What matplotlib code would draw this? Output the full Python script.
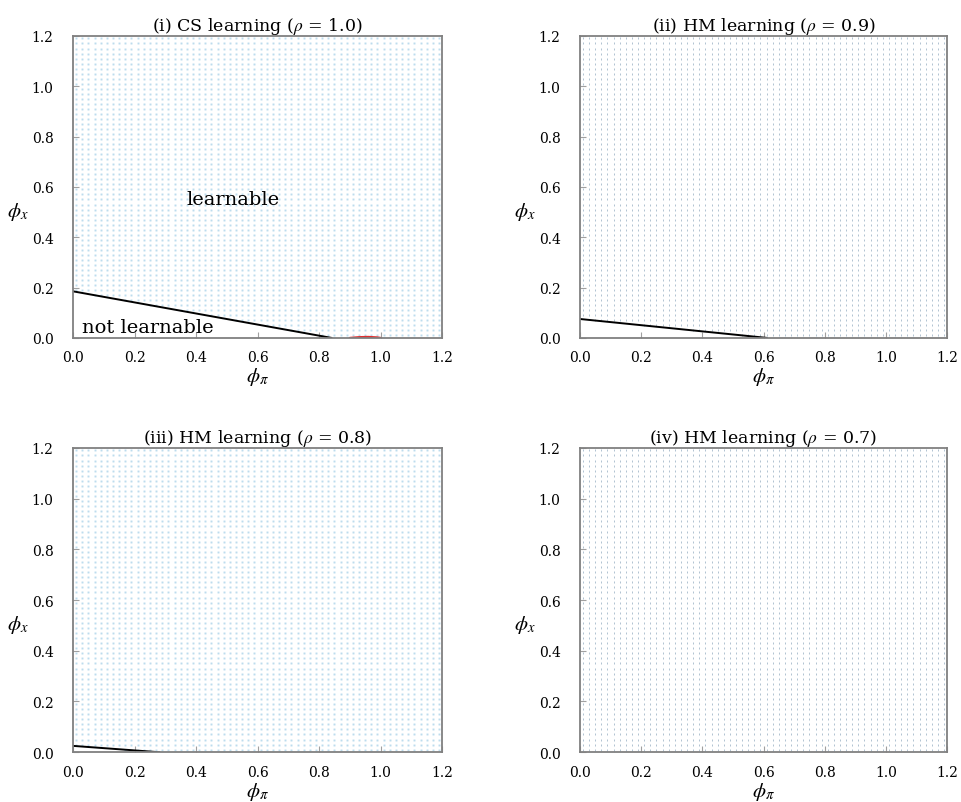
import numpy as np
import matplotlib.pyplot as plt

plt.rcParams['font.family'] = ['DejaVu Serif']
plt.rcParams['mathtext.fontset'] = 'stix'

# panel titles
titles = ["(i) CS learning ($\\rho$ = 1.0)",
          "(ii) HM learning ($\\rho$ = 0.9)",
          "(iii) HM learning ($\\rho$ = 0.8)",
          "(iv) HM learning ($\\rho$ = 0.7)"]

# boundary lines: phi_x intercept and phi_pi intercept
line_x0 = [0.185, 0.075, 0.025, None]
line_p0 = [0.84, 0.61, 0.28, None]

# small red arc in panel (i)
red_x = [0.90, 0.93, 0.96, 0.99, 1.00]
red_y = [0.000, 0.003, 0.004, 0.002, 0.000]

# grid of learnable points
grid = np.arange(0.01, 1.2, 0.02)
ticks = [0.0, 0.2, 0.4, 0.6, 0.8, 1.0, 1.2]
tick_labels = ["0.0", "0.2", "0.4", "0.6", "0.8", "1.0", "1.2"]

dot_color = ['#bddcee', '#a4b8ca', '#bddcee', '#a4b8ca']
dot_marker = ['s', '|', 's', '|']
dot_ms = [1.4, 1.4, 1.4, 1.4]
dot_mew = [0, 0.6, 0, 0.6]

positions = [[0.076, 0.578, 0.384, 0.376],
             [0.6035, 0.578, 0.382, 0.376],
             [0.076, 0.062, 0.384, 0.379],
             [0.6035, 0.062, 0.382, 0.379]]

fig = plt.figure(figsize=(9.61, 8.03), dpi=100)

for i in range(4):
    ax = fig.add_axes(positions[i])
    px, py = np.meshgrid(grid, grid)
    px = px.ravel()
    py = py.ravel()
    if line_x0[i] is not None:
        keep = py > line_x0[i] * (1 - px / line_p0[i])
    else:
        keep = np.ones_like(px, dtype=bool)
    ax.plot(px[keep], py[keep], ls='none', marker=dot_marker[i], ms=dot_ms[i],
            mew=dot_mew[i], color=dot_color[i], mfc=dot_color[i], mec=dot_color[i])
    if line_x0[i] is not None:
        ax.plot([0, line_p0[i]], [line_x0[i], 0], color='black', lw=1.4)
    if i == 0:
        ax.plot(red_x, red_y, color='#e03030', lw=1.5, solid_capstyle='round')
        ax.text(0.52, 0.55, "learnable", fontsize=14, ha='center', va='center')
        ax.text(0.03, 0.045, "not learnable", fontsize=14, ha='left', va='center')
    ax.set_xlim(0, 1.2)
    ax.set_ylim(0, 1.2)
    ax.set_xticks(ticks)
    ax.set_xticklabels(tick_labels)
    ax.set_yticks(ticks)
    ax.set_yticklabels(tick_labels)
    ax.tick_params(direction='in', length=4, color='#a0a0a0', labelsize=10)
    ax.tick_params(axis='x', pad=9)
    ax.tick_params(axis='y', pad=14)
    for s in ax.spines.values():
        s.set_color('#808080')
        s.set_linewidth(1.3)
    ax.set_title(titles[i], fontsize=12.5, pad=4)
    ax.set_xlabel("$\\phi_\\pi$", fontsize=15)
    ax.xaxis.set_label_coords(0.5, -0.09)
    ax.set_ylabel("$\\phi_x$", fontsize=15, rotation=0, va='center')
    ax.yaxis.set_label_coords(-0.15, 0.42)

fig.savefig("out.png", dpi=100)
